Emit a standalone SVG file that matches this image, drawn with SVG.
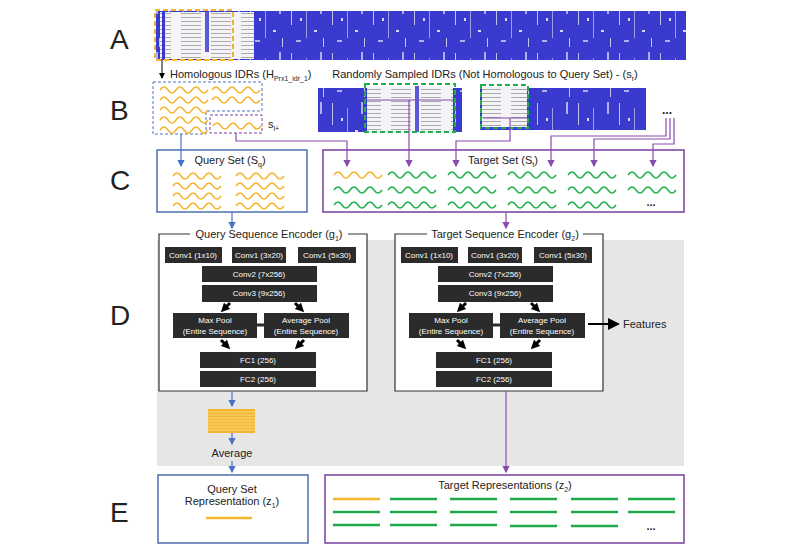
<svg xmlns="http://www.w3.org/2000/svg" width="807" height="552" viewBox="0 0 807 552">
<style>
text{font-family:"Liberation Sans",Arial,sans-serif;fill:#222}
.L{font-size:28px}
.t{font-size:11px}
.bx{fill:#2b2b2b}
.bt{fill:#fff;font-size:8px;text-anchor:middle}
.yw{fill:none;stroke:#f5b52e;stroke-width:1.5}
.gw{fill:none;stroke:#20b04b;stroke-width:1.5}
.yl{stroke:#f5b52e;stroke-width:2.5}
.gl{stroke:#20a84b;stroke-width:2.5}
.pu{fill:none;stroke:#8a4bb0;stroke-width:1.2}
.bl{fill:none;stroke:#4a72c4;stroke-width:1.2}
.ba{stroke:#000;stroke-width:3;marker-end:url(#ka)}
</style>
<defs>
<marker id="pa" markerWidth="6" markerHeight="6" refX="5" refY="3" orient="auto"><path d="M0,0L6,3L0,6z" fill="#8a4bb0"/></marker>
<marker id="ba" markerWidth="6" markerHeight="6" refX="5" refY="3" orient="auto"><path d="M0,0L6,3L0,6z" fill="#4a72c4"/></marker>
<marker id="ka" markerWidth="3" markerHeight="3" refX="1.5" refY="1.5" orient="auto"><path d="M0,0L3,1.5L0,3z" fill="#000"/></marker>
<marker id="k2" markerWidth="6" markerHeight="6" refX="5" refY="3" orient="auto"><path d="M0,0L6,3L0,6z" fill="#000"/></marker>
<pattern id="msa" width="41" height="50" patternUnits="userSpaceOnUse">
<rect width="41" height="50" fill="#3a3acf"/>
<rect x="4" y="3" width="1" height="22" fill="#fff" opacity="0.7"/>
<rect x="13" y="18" width="2" height="3" fill="#fff" opacity="0.8"/>
<rect x="19" y="8" width="1" height="30" fill="#fff" opacity="0.5"/>
<rect x="27" y="30" width="3" height="2" fill="#fff" opacity="0.8"/>
<rect x="33" y="2" width="2" height="12" fill="#fff" opacity="0.6"/>
<rect x="9" y="40" width="5" height="2" fill="#fff" opacity="0.6"/>
<rect x="36" y="38" width="1" height="9" fill="#fff" opacity="0.7"/>
</pattern>
<pattern id="aln" width="30" height="4" patternUnits="userSpaceOnUse">
<rect width="30" height="4" fill="#f4f4f8"/>
<rect x="1" y="1" width="20" height="1" fill="#aaa"/>
</pattern>
<path id="wv" d="M0,0q4,-6 8,0t8,0t8,0t8,0t8,0t8,0"/>
</defs>
<text class="L" x="110" y="49">A</text>
<text class="L" x="110" y="120">B</text>
<text class="L" x="110" y="190">C</text>
<text class="L" x="110" y="325">D</text>
<text class="L" x="110" y="522">E</text>
<g id="msaA">
<rect x="156" y="11" width="530" height="49" fill="url(#msa)"/>
<rect x="160" y="12" width="72" height="47" fill="url(#aln)"/>
<rect x="162" y="12" width="3" height="47" fill="#3838cc"/>
<rect x="205" y="12" width="4" height="40" fill="#5a5ad8"/>
<rect x="230" y="12" width="24" height="47" fill="url(#aln)"/>
<rect x="155" y="10" width="78" height="50" fill="none" stroke="#f5b52e" stroke-width="2" stroke-dasharray="5,3"/>
</g>
<g id="homologous">
<text class="t" x="170" y="78">Homologous IDRs (H<tspan font-size="7" dy="3">Prx1_idr_1</tspan><tspan dy="-3">)</tspan></text>
<path d="M153,82H262V111H206V134H153Z" fill="none" stroke="#4a72c4" stroke-dasharray="3,2"/>
<rect x="210" y="115" width="52" height="18" fill="none" stroke="#7a3fa0" stroke-dasharray="3,2"/>
<g class="yw">
<use href="#wv" x="160" y="90"/><use href="#wv" x="160" y="100"/><use href="#wv" x="160" y="110"/><use href="#wv" x="160" y="120"/><use href="#wv" x="160" y="130"/>
<use href="#wv" x="212" y="90"/><use href="#wv" x="212" y="100"/><use href="#wv" x="213" y="126"/>
</g>
<text class="t" x="268" y="128">s<tspan font-size="7" dy="3">l+</tspan></text>
</g>
<g id="random">
<text class="t" x="485" y="78" text-anchor="middle">Randomly Sampled IDRs (Not Homologous to Query Set) - (s<tspan font-size="7" dy="3">r</tspan><tspan dy="-3">)</tspan></text>
<rect x="318" y="88" width="144" height="44" fill="url(#msa)"/>
<rect x="367" y="86" width="86" height="46" fill="url(#aln)"/>
<rect x="415" y="86" width="4" height="46" fill="#5a5ad8"/>
<rect x="365" y="84" width="90" height="48" fill="none" stroke="#20b04b" stroke-width="2" stroke-dasharray="5,3"/>
<rect x="480" y="88" width="166" height="42" fill="url(#msa)"/>
<rect x="482" y="87" width="45" height="40" fill="url(#aln)"/>
<rect x="481" y="85" width="47" height="43" fill="none" stroke="#20b04b" stroke-width="2" stroke-dasharray="5,3"/>
<text x="667" y="114" font-size="12" font-weight="bold" text-anchor="middle">...</text>
</g>
<g id="querySet">
<rect x="157" y="150" width="150" height="62" fill="#fff" stroke="#4b6fae" stroke-width="1.5"/>
<text class="t" x="230" y="164" text-anchor="middle">Query Set (S<tspan font-size="7" dy="3">q</tspan><tspan dy="-3">)</tspan></text>
<g class="yw">
<use href="#wv" x="173" y="176"/><use href="#wv" x="173" y="186"/><use href="#wv" x="173" y="196"/><use href="#wv" x="173" y="206"/>
<use href="#wv" x="236" y="176"/><use href="#wv" x="236" y="186"/><use href="#wv" x="236" y="196"/><use href="#wv" x="236" y="206"/>
</g>
</g>
<g id="targetSet">
<rect x="323" y="150" width="361" height="62" fill="#fff" stroke="#7a3fa0" stroke-width="1.5"/>
<text class="t" x="503" y="164" text-anchor="middle">Target Set (S<tspan font-size="7" dy="3">t</tspan><tspan dy="-3">)</tspan></text>
<use href="#wv" x="334" y="175" class="yw"/>
<g class="gw">
<use href="#wv" x="334" y="190"/><use href="#wv" x="334" y="205"/>
<use href="#wv" x="388" y="175"/><use href="#wv" x="388" y="190"/><use href="#wv" x="388" y="205"/>
<use href="#wv" x="448" y="175"/><use href="#wv" x="448" y="190"/><use href="#wv" x="448" y="205"/>
<use href="#wv" x="508" y="175"/><use href="#wv" x="508" y="190"/><use href="#wv" x="508" y="205"/>
<use href="#wv" x="568" y="175"/><use href="#wv" x="568" y="190"/><use href="#wv" x="568" y="205"/>
<use href="#wv" x="628" y="175"/><use href="#wv" x="628" y="190"/>
</g>
<text x="651" y="206" font-size="11" font-weight="bold" text-anchor="middle">...</text>
</g>
<rect x="157" y="240" width="527" height="226" fill="#e6e6e6"/>
<g id="queryEncoder">
<rect x="159" y="234" width="208" height="157" fill="#fff"/>
<path d="M190,234H159V391H367V234H348" fill="none" stroke="#333" stroke-width="1.2"/>
<text class="t" x="269" y="238" text-anchor="middle">Query Sequence Encoder (g<tspan font-size="7" dy="3">1</tspan><tspan dy="-3">)</tspan></text>
<rect class="bx" x="165" y="247" width="57" height="16"/><text class="bt" x="193" y="258">Conv1 (1x10)</text>
<rect class="bx" x="232" y="247" width="54" height="16"/><text class="bt" x="259" y="258">Conv1 (3x20)</text>
<rect class="bx" x="298" y="247" width="58" height="16"/><text class="bt" x="327" y="258">Conv1 (5x30)</text>
<rect class="bx" x="202" y="266" width="115" height="16"/><text class="bt" x="259" y="277">Conv2 (7x256)</text>
<rect class="bx" x="202" y="285" width="115" height="17"/><text class="bt" x="259" y="296">Conv3 (9x256)</text>
<rect class="bx" x="173" y="313" width="84" height="25"/><text class="bt" x="215" y="323">Max Pool</text><text class="bt" x="215" y="334">(Entire Sequence)</text>
<rect class="bx" x="264" y="313" width="85" height="25"/><text class="bt" x="306" y="323">Average Pool</text><text class="bt" x="306" y="334">(Entire Sequence)</text>
<line x1="257" y1="325" x2="264" y2="325" stroke="#2b2b2b" stroke-width="3"/>
<rect class="bx" x="200" y="352" width="116" height="16"/><text class="bt" x="258" y="363">FC1 (256)</text>
<rect class="bx" x="200" y="371" width="116" height="16"/><text class="bt" x="258" y="382">FC2 (256)</text>
<line class="ba" x1="230" y1="303" x2="224" y2="309"/>
<line class="ba" x1="295" y1="303" x2="301" y2="309"/>
<line class="ba" x1="221" y1="340" x2="227" y2="346"/>
<line class="ba" x1="304" y1="340" x2="298" y2="346"/>
</g>
<g id="targetEncoder" transform="translate(236,0)">
<rect x="159" y="234" width="208" height="157" fill="#fff"/>
<path d="M191,234H159V391H367V234H347" fill="none" stroke="#333" stroke-width="1.2"/>
<text class="t" x="269" y="238" text-anchor="middle">Target Sequence Encoder (g<tspan font-size="7" dy="3">2</tspan><tspan dy="-3">)</tspan></text>
<rect class="bx" x="165" y="247" width="57" height="16"/><text class="bt" x="193" y="258">Conv1 (1x10)</text>
<rect class="bx" x="232" y="247" width="54" height="16"/><text class="bt" x="259" y="258">Conv1 (3x20)</text>
<rect class="bx" x="298" y="247" width="58" height="16"/><text class="bt" x="327" y="258">Conv1 (5x30)</text>
<rect class="bx" x="202" y="266" width="115" height="16"/><text class="bt" x="259" y="277">Conv2 (7x256)</text>
<rect class="bx" x="202" y="285" width="115" height="17"/><text class="bt" x="259" y="296">Conv3 (9x256)</text>
<rect class="bx" x="173" y="313" width="84" height="25"/><text class="bt" x="215" y="323">Max Pool</text><text class="bt" x="215" y="334">(Entire Sequence)</text>
<rect class="bx" x="264" y="313" width="85" height="25"/><text class="bt" x="306" y="323">Average Pool</text><text class="bt" x="306" y="334">(Entire Sequence)</text>
<line x1="257" y1="325" x2="264" y2="325" stroke="#2b2b2b" stroke-width="3"/>
<rect class="bx" x="200" y="352" width="116" height="16"/><text class="bt" x="258" y="363">FC1 (256)</text>
<rect class="bx" x="200" y="371" width="116" height="16"/><text class="bt" x="258" y="382">FC2 (256)</text>
<line class="ba" x1="230" y1="303" x2="224" y2="309"/>
<line class="ba" x1="295" y1="303" x2="301" y2="309"/>
<line class="ba" x1="221" y1="340" x2="227" y2="346"/>
<line class="ba" x1="304" y1="340" x2="298" y2="346"/>
</g>
<g id="features">
<line x1="588" y1="324" x2="618" y2="324" stroke="#000" stroke-width="2" marker-end="url(#k2)"/>
<text class="t" x="623" y="328">Features</text>
</g>
<g id="stack">
<rect x="208" y="409" width="47" height="24" fill="#f5b52e"/>
<g stroke="#fde3a0" stroke-width="0.8">
<line x1="208" y1="412" x2="255" y2="412"/><line x1="208" y1="415" x2="255" y2="415"/><line x1="208" y1="418" x2="255" y2="418"/><line x1="208" y1="421" x2="255" y2="421"/><line x1="208" y1="424" x2="255" y2="424"/><line x1="208" y1="427" x2="255" y2="427"/><line x1="208" y1="430" x2="255" y2="430"/>
</g>
<text class="t" x="232" y="457" text-anchor="middle">Average</text>
</g>
<g id="queryRep">
<rect x="158" y="475" width="150" height="68" fill="#fff" stroke="#4b6fae" stroke-width="1.5"/>
<text class="t" x="232" y="493" text-anchor="middle">Query Set</text>
<text class="t" x="232" y="505" text-anchor="middle">Representation (z<tspan font-size="7" dy="3">1</tspan><tspan dy="-3">)</tspan></text>
<line class="yl" x1="206" y1="518" x2="252" y2="518"/>
</g>
<g id="targetRep">
<rect x="325" y="475" width="359" height="68" fill="#fff" stroke="#7a3fa0" stroke-width="1.5"/>
<text class="t" x="505" y="489" text-anchor="middle">Target Representations (z<tspan font-size="7" dy="3">2</tspan><tspan dy="-3">)</tspan></text>
<line class="yl" x1="333" y1="499" x2="380" y2="499"/>
<g class="gl">
<line x1="333" y1="512" x2="380" y2="512"/><line x1="333" y1="525" x2="380" y2="525"/>
<line x1="390" y1="499" x2="437" y2="499"/><line x1="390" y1="512" x2="437" y2="512"/><line x1="390" y1="525" x2="437" y2="525"/>
<line x1="450" y1="499" x2="497" y2="499"/><line x1="450" y1="512" x2="497" y2="512"/><line x1="450" y1="525" x2="497" y2="525"/>
<line x1="510" y1="499" x2="557" y2="499"/><line x1="510" y1="512" x2="557" y2="512"/><line x1="510" y1="526" x2="557" y2="526"/>
<line x1="571" y1="499" x2="618" y2="499"/><line x1="571" y1="512" x2="618" y2="512"/><line x1="571" y1="526" x2="618" y2="526"/>
<line x1="628" y1="499" x2="675" y2="499"/><line x1="628" y1="512" x2="675" y2="512"/>
</g>
<text x="651" y="530" font-size="11" font-weight="bold" text-anchor="middle">...</text>
</g>
<g id="connectors">
<line x1="162" y1="60" x2="162" y2="78" stroke="#000" stroke-width="1" marker-end="url(#k2)"/>
<path class="bl" d="M181,134V166" marker-end="url(#ba)"/>
<path class="bl" d="M232,212V228" marker-end="url(#ba)"/>
<path class="bl" d="M232,391V406" marker-end="url(#ba)"/>
<path class="bl" d="M232,433V444" marker-end="url(#ba)"/>
<path class="bl" d="M232,461V472" marker-end="url(#ba)"/>
<path class="pu" d="M236,133V141H347V166" marker-end="url(#pa)"/>
<path class="pu" d="M367,100H453M409,100V166" marker-end="url(#pa)"/>
<path class="pu" d="M483,118H527M510,118V141H456V166" marker-end="url(#pa)"/>
<path class="pu" d="M666,118V136H551V166" marker-end="url(#pa)"/>
<path class="pu" d="M670,118V139H594V166" marker-end="url(#pa)"/>
<path class="pu" d="M674,118V144H653V166" marker-end="url(#pa)"/>
<path class="pu" d="M506,212V228" marker-end="url(#pa)"/>
<path class="pu" d="M506,391V472" marker-end="url(#pa)"/>
</g>
</svg>
